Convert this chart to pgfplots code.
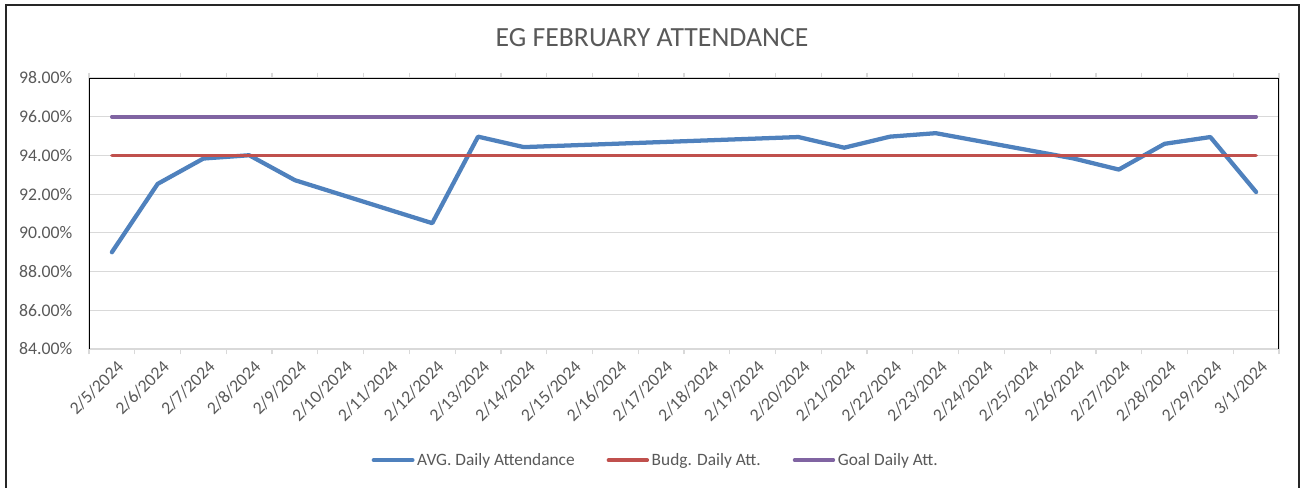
\documentclass[border=0pt]{standalone}
\usepackage{pgfplots}
\pgfplotsset{compat=1.18}
\usepackage{fontspec}
\setmainfont{Carlito}
\definecolor{txt}{HTML}{595959}
\definecolor{cblue}{HTML}{4F81BD}
\definecolor{cred}{HTML}{C0504D}
\definecolor{cpurple}{HTML}{8064A2}
\definecolor{gridc}{HTML}{D9D9D9}
\begin{document}
\begin{tikzpicture}
\begin{axis}[
  at={(66.75pt,103.5pt)}, anchor=south west,
  scale only axis, width=892.5pt, height=203.25pt,
  xmin=-0.5, xmax=25.5, ymin=84, ymax=98,
  ytick={84,86,...,98},
  xtick={0,...,25},
  xticklabels={2/5/2024,2/6/2024,2/7/2024,2/8/2024,2/9/2024,2/10/2024,2/11/2024,2/12/2024,2/13/2024,2/14/2024,2/15/2024,2/16/2024,2/17/2024,2/18/2024,2/19/2024,2/20/2024,2/21/2024,2/22/2024,2/23/2024,2/24/2024,2/25/2024,2/26/2024,2/27/2024,2/28/2024,2/29/2024,3/1/2024},
  minor xtick={-0.5,0.5,...,25.5},
  major tick length=0pt,
  minor tick length=4pt,
  tick align=outside,
  minor tick style={gridc, line width=0.9pt},
  ymajorgrids, major grid style={gridc, line width=0.9pt},
  axis line style={draw=none},
  /pgf/number format/assume math mode=true,
  yticklabel={\pgfmathprintnumber[fixed,fixed zerofill,precision=2]{\tick}\%},
  ticklabel style={font=\fontsize{13.3}{15}\selectfont, text=txt},
  yticklabel style={xshift=-9pt},
  xticklabel style={rotate=45, anchor=north east, yshift=-4pt},
  legend style={at={(axis description cs:0.4765,-0.41)}, anchor=center, draw=none,
    font=\fontsize{13}{15}\selectfont, text=txt, legend columns=3,
    /tikz/every even column/.append style={column sep=22pt}},
  legend image code/.code={\draw[#1, line cap=round] (0pt,0pt) -- (29pt,0pt);},
]
\addplot[cblue, line width=3.2pt, line join=round, line cap=round] coordinates {
(0,89.00) (1,92.53) (2,93.84) (3,94.01) (4,92.72) (7,90.50) (8,94.97) (9,94.43)
(15,94.95) (16,94.40) (17,94.97) (18,95.15) (21,93.85) (22,93.27) (23,94.60) (24,94.95) (25,92.11)};
\addlegendentry{AVG. Daily Attendance}
\addplot[cred, line width=2.8pt, line cap=round] coordinates {(0,94) (25,94)};
\addlegendentry{Budg. Daily Att.}
\addplot[cpurple, line width=2.8pt, line cap=round] coordinates {(0,96) (25,96)};
\addlegendentry{Goal Daily Att.}
\draw[gridc, line width=1pt] (rel axis cs:0,0) -- (rel axis cs:1,0);
\draw[black, line width=1pt] (rel axis cs:0,0) -- (rel axis cs:0,1) -- (rel axis cs:1,1) -- (rel axis cs:1,0);
\end{axis}
\node[text=txt, font=\fontsize{20.8}{24}\selectfont] at (489pt,336.75pt) {EG FEBRUARY ATTENDANCE};
\draw[black!85, line width=1.3pt] (4.5pt,-5pt) rectangle (974.25pt,361.5pt);
\pgfresetboundingbox
\path[use as bounding box] (0,0) rectangle (980.25pt,365.25pt);
\end{tikzpicture}
\end{document}
